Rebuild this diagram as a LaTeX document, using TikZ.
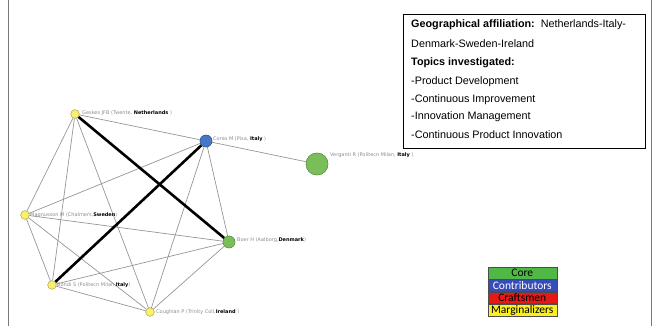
\documentclass[tikz,border=0pt]{standalone}
\usepackage{fontspec}
\setmainfont{Liberation Sans}
\newfontfamily\labelfont{DejaVu Sans}
\newfontfamily\legendfont{Carlito}
\definecolor{edgegray}{RGB}{150,150,150}
\definecolor{labelgray}{RGB}{140,140,140}
\definecolor{coregreen}{RGB}{122,190,90}
\definecolor{contblue}{RGB}{70,120,200}
\definecolor{margyellow}{RGB}{250,240,110}
\definecolor{legreen}{RGB}{80,185,70}
\definecolor{leblue}{RGB}{55,75,185}
\definecolor{lered}{RGB}{230,25,25}
\definecolor{leyellow}{RGB}{250,240,30}
\begin{document}
\begin{tikzpicture}[x=1pt,y=-1pt,
  author/.style={circle,inner sep=0pt,line width=0.4pt},
  marg/.style={author,fill=margyellow,draw=margyellow!70!black,minimum size=8.5pt},
  contr/.style={author,fill=contblue,draw=contblue!70!black,minimum size=12pt},
  core/.style={author,fill=coregreen,draw=coregreen!75!black,minimum size=12pt},
  corebig/.style={author,fill=coregreen,draw=coregreen!75!black,minimum size=22pt},
  tie/.style={draw=edgegray,line width=0.7pt},
  strongtie/.style={draw=black,line width=2.6pt},
  tag/.style={anchor=west,inner sep=0pt,font=\labelfont\fontsize{5}{6}\selectfont,text=labelgray},
  infoline/.style={anchor=west,inner sep=0pt,font=\fontsize{10.8}{12}\selectfont},
  legrow/.style={draw=black!70,line width=0.5pt,minimum width=69pt,minimum height=11.8pt,inner sep=0pt,font=\legendfont\fontsize{11.5}{12}\selectfont}
]
\useasboundingbox (0,0) rectangle (655,326);
% page frame
\draw[edgegray!80!black,line width=0.8pt] (8.5,0) -- (8.5,326);
\draw[edgegray!80!black,line width=0.8pt] (651.5,0) -- (651.5,326);

% authors
\node[marg]    (ges) at (75,114) {};
\node[contr]   (cor) at (206,141) {};
\node[corebig] (ver) at (317,164) {};
\node[marg]    (mag) at (25,215) {};
\node[core]    (boe) at (229,242) {};
\node[marg]    (bon) at (52,285) {};
\node[marg]    (cou) at (150,312) {};

% co-authorship ties
\draw[tie] (ges) -- (cor);
\draw[tie] (ges) -- (mag);
\draw[tie] (ges) -- (bon);
\draw[tie] (ges) -- (cou);
\draw[tie] (cor) -- (ver);
\draw[tie] (cor) -- (mag);
\draw[tie] (cor) -- (boe);
\draw[tie] (cor) -- (cou);
\draw[tie] (mag) -- (boe);
\draw[tie] (mag) -- (bon);
\draw[tie] (mag) -- (cou);
\draw[tie] (bon) -- (boe);
\draw[tie] (bon) -- (cou);
\draw[tie] (cou) -- (boe);
\draw[strongtie] (ges) -- (boe);
\draw[strongtie] (cor) -- (bon);

% redraw authors on top of ties
\node[marg]    at (ges) {};
\node[contr]   at (cor) {};
\node[corebig] at (ver) {};
\node[marg]    at (mag) {};
\node[core]    at (boe) {};
\node[marg]    at (bon) {};
\node[marg]    at (cou) {};

% author labels
\node[tag] (lges) at (82,113) {Geskes JFB (Twente, \textcolor{black}{\bfseries Netherlands} )};
\node[tag] (lcor) at (213,139) {Corso M (Pisa, \textcolor{black}{\bfseries Italy} )};
\node[tag] (lver) at (330,155) {Verganti R (Politecn Milan, \textcolor{black}{\bfseries Italy} )};
\node[tag] (lmag) at (30,215) {Magnusson M (Chalmers,\textcolor{black}{\bfseries Sweden})};
\node[tag] (lboe) at (237,240) {Boer H (Aalborg,\textcolor{black}{\bfseries Denmark})};
\node[tag] (lbon) at (57,285) {Bondi S (Politecn Milan,\textcolor{black}{\bfseries Italy})};
\node[tag] (lcou) at (156,312) {Coughlan P (Trinity Coll,\textcolor{black}{\bfseries Ireland} )};

% information box
\node[draw=black,line width=1pt,anchor=north west,minimum width=242pt,minimum height=134pt,inner sep=0pt] (info) at (403,14) {};
\node[infoline] (i1) at (411,24.5) {\bfseries Geographical affiliation:\mdseries\ \ Netherlands-Italy-};
\node[infoline] (i2) at (411,44) {Denmark-Sweden-Ireland};
\node[infoline] (i3) at (411,63) {\bfseries Topics investigated:};
\node[infoline] (i4) at (411,81.5) {-Product Development};
\node[infoline] (i5) at (411,99.5) {-Continuous Improvement};
\node[infoline] (i6) at (411,117) {-Innovation Management};
\node[infoline] (i7) at (411,135) {-Continuous Product Innovation};

% legend
\node[legrow,fill=legreen,text=black,anchor=north west] (lg1) at (487.5,267) {Core};
\node[legrow,fill=leblue,text=white,anchor=north] (lg2) at (lg1.south) {Contributors};
\node[legrow,fill=lered,text=black,anchor=north] (lg3) at (lg2.south) {Craftsmen};
\node[legrow,fill=leyellow,text=black,anchor=north] (lg4) at (lg3.south) {Marginalizers};
\end{tikzpicture}
\end{document}
